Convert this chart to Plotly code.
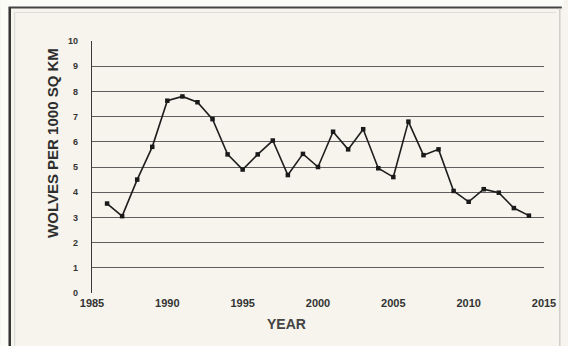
import plotly.graph_objects as go

years = list(range(1986, 2015))
wolves = [3.55, 3.05, 4.5, 5.8, 7.63, 7.8, 7.57, 6.9, 5.5, 4.9, 5.5, 6.05, 4.68, 5.52, 5.0,
          6.4, 5.7, 6.5, 4.95, 4.6, 6.8, 5.47, 5.7, 4.05, 3.62, 4.12, 3.98, 3.37, 3.07]
x_ticks = [1985, 1990, 1995, 2000, 2005, 2010, 2015]
y_ticks = list(range(0, 11))

W, H = 568, 346
L, R, T, B = 92, 20, 41, 53
pw, ph = W - L - R, H - T - B

def px(x):
    return (x - L) / pw

def py(y):
    return (H - B - y) / ph

fig = go.Figure()
fig.add_trace(go.Scatter(
    x=years, y=wolves, mode="lines+markers",
    line=dict(color="#1e1e1e", width=1.6),
    marker=dict(symbol="square", size=4.5, color="#1a1a1a"),
    hoverinfo="x+y", showlegend=False,
))

fig.update_layout(
    width=W, height=H,
    margin=dict(l=L, r=R, t=T, b=B),
    paper_bgcolor="#f6f4ec",
    plot_bgcolor="#f6f4ec",
    font=dict(family="Liberation Sans, Arial, sans-serif", color="#2a2a2a"),
    xaxis=dict(
        range=[1985, 2015], tickvals=x_ticks,
        ticktext=["<b>%d</b>" % v for v in x_ticks],
        showgrid=False, zeroline=False, showline=False, ticks="",
        tickfont=dict(size=11, color="#333"), ticklabelstandoff=2,
        ticklabeloverflow="allow",
    ),
    yaxis=dict(
        range=[0, 10], tickvals=y_ticks,
        ticktext=["<b>%d</b>" % v for v in y_ticks],
        showgrid=True, gridcolor="#5e5e5e", gridwidth=1, zeroline=False,
        showline=True, linecolor="#3a3a3a", linewidth=1.3, ticks="",
        tickfont=dict(size=9, color="#333"), ticklabelstandoff=11,
    ),
    annotations=[
        dict(text="<b>WOLVES PER 1000 SQ KM</b>", xref="paper", yref="paper",
             x=px(41), y=py(143), textangle=-90, showarrow=False,
             font=dict(size=15, color="#2e2e2e")),
        dict(text="<b>YEAR</b>", xref="paper", yref="paper",
             x=px(288), y=py(334), showarrow=False,
             font=dict(size=14, color="#444")),
    ],
    shapes=[
        dict(type="rect", xref="paper", yref="paper", x0=px(0), x1=px(8), y0=py(0), y1=py(346),
             fillcolor="#fbfbf8", line=dict(width=0), layer="below"),
        dict(type="rect", xref="paper", yref="paper", x0=px(0), x1=px(568), y0=py(0), y1=py(7),
             fillcolor="#fbfbf8", line=dict(width=0), layer="below"),
        dict(type="line", xref="paper", yref="paper", x0=px(9), x1=px(9), y0=py(7), y1=py(350),
             line=dict(color="#333", width=2.5)),
        dict(type="line", xref="paper", yref="paper", x0=px(8), x1=px(566), y0=py(7.5), y1=py(7.5),
             line=dict(color="#444", width=2)),
        dict(type="line", xref="paper", yref="paper", x0=px(564), x1=px(564), y0=py(8), y1=py(350),
             line=dict(color="#bbb", width=1)),
        dict(type="line", xref="paper", yref="paper", x0=px(14), x1=px(14), y0=py(12), y1=py(350),
             line=dict(color="#d8d8d8", width=1)),
        dict(type="line", xref="paper", yref="paper", x0=px(14), x1=px(560), y0=py(12.5), y1=py(12.5),
             line=dict(color="#dcdcdc", width=1)),
    ],
)

fig.write_html("out.html", config={"displayModeBar": False},
               post_script="document.body.style.margin='0';")
